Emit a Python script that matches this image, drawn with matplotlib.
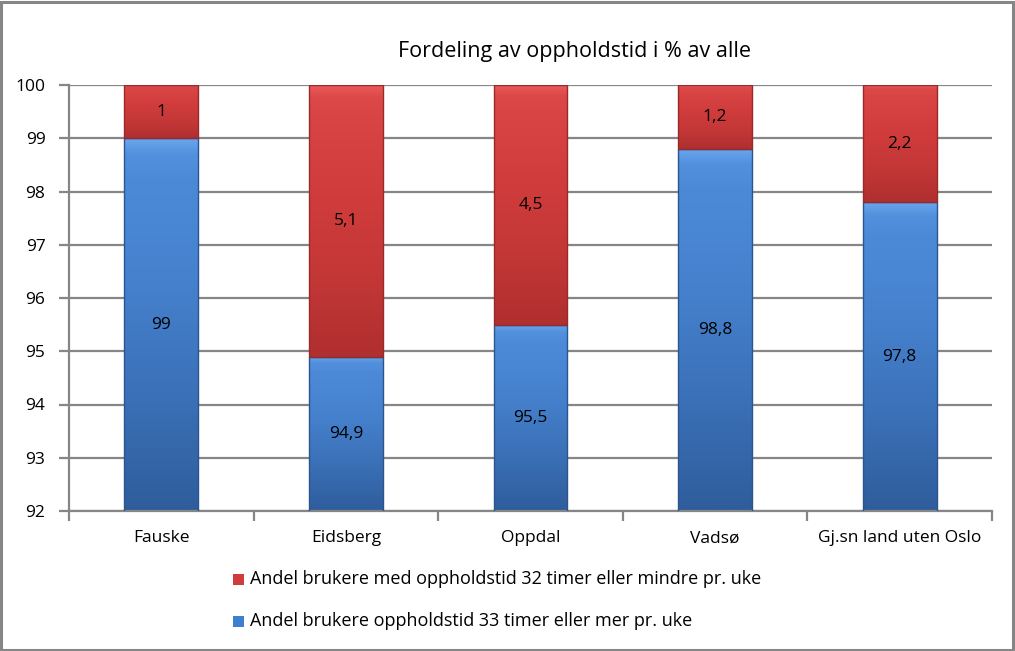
import matplotlib
matplotlib.use("Agg")
import matplotlib.pyplot as plt
import numpy as np
from matplotlib.colors import LinearSegmentedColormap
from matplotlib.patches import Rectangle

categories = ["Fauske", "Eidsberg", "Oppdal", "Vadsø", "Gj.sn land uten Oslo"]
blue_values = [99, 94.9, 95.5, 98.8, 97.8]
red_values = [1, 5.1, 4.5, 1.2, 2.2]
blue_labels = ["99", "94,9", "95,5", "98,8", "97,8"]
red_labels = ["1", "5,1", "4,5", "1,2", "2,2"]
yticks = [92, 93, 94, 95, 96, 97, 98, 99, 100]
legend_red = "Andel brukere med oppholdstid 32 timer eller mindre pr. uke"
legend_blue = "Andel brukere oppholdstid 33 timer eller mer pr. uke"
title = "Fordeling av oppholdstid i % av alle"

plt.rcParams['font.family'] = ['Open Sans', 'DejaVu Sans']

fig = plt.figure(figsize=(10.15, 6.51), dpi=100)
ax = fig.add_axes([69/1015, 1-511/651, (992-69)/1015, (511-85)/651])

x = np.arange(len(categories))
width = 0.40
ymin = 92

blue_cmap = LinearSegmentedColormap.from_list("b", ["#6aa6ee", "#4c8ad8", "#4580cc", "#3a70b6", "#2f5d9c"])
red_cmap = LinearSegmentedColormap.from_list("r", ["#ea5a5a", "#d94444", "#d03c3c", "#c43737", "#b02f2f"])

def grad_bars(bottoms, heights, cmap, edge):
    bars = ax.bar(x, heights, width, bottom=bottoms, color="none", edgecolor=edge, linewidth=1.0, zorder=3)
    for b in bars:
        x0, y0 = b.get_x(), b.get_y()
        w, h = b.get_width(), b.get_height()
        y0c = max(y0, ymin)
        grad = np.concatenate([np.linspace(0, 0.2, 12), np.linspace(0.2, 1, 244)]).reshape(-1, 1)
        im = ax.imshow(grad, cmap=cmap, vmin=0, vmax=1, aspect="auto",
                       extent=[x0, x0 + w, y0c, y0 + h],
                       origin="upper", zorder=2, interpolation="bilinear")
        im.set_clip_path(b)
    return bars

blue_bottoms = [0] * len(x)
grad_bars(blue_bottoms, blue_values, blue_cmap, "#2c5590")
grad_bars(blue_values, red_values, red_cmap, "#9a2a2a")

for i in range(len(x)):
    ax.text(x[i], (ymin + blue_values[i]) / 2, blue_labels[i], ha="center", va="center", fontsize=12.5, color="black", zorder=5)
    ax.text(x[i], blue_values[i] + red_values[i] / 2, red_labels[i], ha="center", va="center", fontsize=12.5, color="black", zorder=5)

ax.set_xlim(-0.5, len(x) - 0.5)
ax.set_ylim(92, 100)
ax.set_yticks(yticks)
ax.set_yticklabels([str(t) for t in yticks], fontsize=12.5)
ax.yaxis.grid(True, color="#868686", linewidth=1.6, zorder=0)
ax.set_axisbelow(True)

ax.set_xticks(np.arange(len(x) + 1) - 0.5, minor=False)
ax.set_xticklabels([])
ax.set_xticks(x, minor=True)
ax.set_xticklabels(categories, minor=True, fontsize=12.5)
ax.tick_params(axis="x", which="minor", length=0, pad=14)
ax.tick_params(axis="x", which="major", length=7, width=1.6, color="#868686")
ax.tick_params(axis="y", length=7, width=1.6, color="#868686", pad=10)

for s in ["top", "right"]:
    ax.spines[s].set_visible(False)
for s in ["left", "bottom"]:
    ax.spines[s].set_color("#868686")
    ax.spines[s].set_linewidth(1.6)

fig.text(575/1015, 1-52/651, title, ha="center", va="center", fontsize=15.5)

# legend
lx, ly1, ly2 = 239/1015, 1-579/651, 1-621/651
for ly, col, lab in [(ly1, "#d03c3c", legend_red), (ly2, "#3f7fcf", legend_blue)]:
    fig.patches.append(Rectangle((lx - 6/1015, ly - 6/651), 11/1015, 11/651, transform=fig.transFigure,
                                 facecolor=col, edgecolor="none"))
    fig.text(250/1015, ly, lab, ha="left", va="center", fontsize=13)

fig.patches.append(Rectangle((1/1015, 1/651), 1 - 3/1015, 1 - 3/651, transform=fig.transFigure,
                             facecolor="none", edgecolor="#868686", linewidth=2.2))

fig.savefig("out.png", dpi=100)
